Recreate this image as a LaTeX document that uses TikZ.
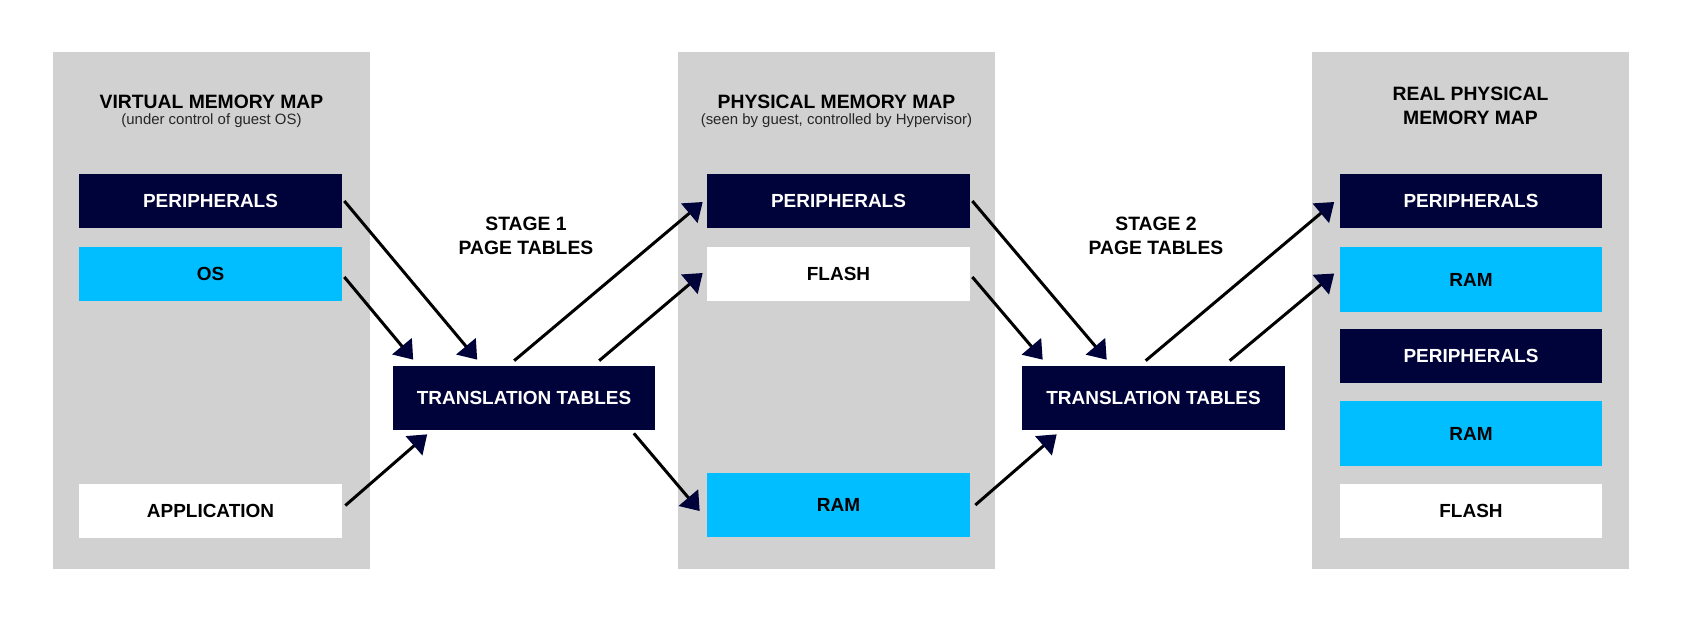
\documentclass[tikz,border=0pt]{standalone}
\usepackage{fontspec}
\setmainfont{Liberation Sans}
\usetikzlibrary{arrows.meta}

\definecolor{armnavy}{RGB}{0,2,58}
\definecolor{armcyan}{RGB}{0,190,255}
\definecolor{mapgray}{RGB}{209,209,209}

\tikzset{
  region/.style={minimum width=5.26cm, minimum height=1.08cm, inner sep=0pt,
    font=\fontsize{10.8}{13}\selectfont\bfseries},
  periph/.style={region, fill=armnavy, text=white},
  ram/.style={region, fill=armcyan, text=black, minimum height=1.3cm},
  flash/.style={region, fill=white, text=black},
  xlat/.style={region, fill=armnavy, text=white, minimum height=1.28cm},
  maptitle/.style={font=\fontsize{11}{13.6}\selectfont\bfseries, align=center},
  mapnote/.style={font=\fontsize{8.5}{10}\selectfont, text=black!85},
  map/.style={line width=0.06cm, -{Triangle[length=0.35cm,width=0.5cm,color=armnavy]}}
}

\begin{document}
\begin{tikzpicture}[x=0.02cm,y=-0.02cm]
      \useasboundingbox (0,0) rectangle (1690,616);
      \fill[mapgray] (53,52) rectangle (370,569);
      \fill[mapgray] (678,52) rectangle (995,569);
      \fill[mapgray] (1312,52) rectangle (1629,569);
      % virtual memory map
      \node[maptitle] (vtitle) at (211.5,102) {VIRTUAL MEMORY MAP};
      \node[mapnote] (vnote) at (211.5,121) {(under control of guest OS)};
      \node[periph] (vper) at (210.5,201) {PERIPHERALS};
      \node[ram, minimum height=1.08cm] (vos) at (210.5,274) {OS};
      \node[flash] (vapp) at (210.5,510.5) {APPLICATION};
      % physical memory map
      \node[maptitle] (ptitle) at (836.5,102) {PHYSICAL MEMORY MAP};
      \node[mapnote] (pnote) at (836.5,121) {(seen by guest, controlled by Hypervisor)};
      \node[periph] (pper) at (838.5,201) {PERIPHERALS};
      \node[flash] (pflash) at (838.5,274) {FLASH};
      \node[ram, minimum height=1.28cm] (pram) at (838.5,505) {RAM};
      % real physical memory map
      \node[maptitle] (rtitle) at (1470.5,106) {REAL PHYSICAL\\MEMORY MAP};
      \node[periph] (rper) at (1471,201) {PERIPHERALS};
      \node[ram] (rram) at (1471,279.5) {RAM};
      \node[periph] (rper2) at (1471,356) {PERIPHERALS};
      \node[ram] (rram2) at (1471,433.5) {RAM};
      \node[flash] (rflash) at (1471,510.5) {FLASH};
      % translation stages
      \node[maptitle] (stage1) at (526,235.5) {STAGE 1\\PAGE TABLES};
      \node[maptitle] (stage2) at (1156,235.5) {STAGE 2\\PAGE TABLES};
      \node[xlat] (tt1) at (524,398) {TRANSLATION TABLES};
      \node[xlat] (tt2) at (1153.5,398) {TRANSLATION TABLES};
      % stage 1
      \draw[map] ([shift={(2,0)}]vper.east) -- ([shift={(85,-6)}]tt1.north west);
      \draw[map] ([shift={(2,3)}]vos.east) -- ([shift={(21,-6)}]tt1.north west);
      \draw[map] ([shift={(3,-5)}]vapp.east) -- ([shift={(35,4)}]tt1.south west);
      \draw[map] ([shift={(122,-5)}]tt1.north west) -- ([shift={(-4,1)}]pper.west);
      \draw[map] ([shift={(207,-5)}]tt1.north west) -- ([shift={(-4,-1)}]pflash.west);
      \draw[map] ([shift={(-22,3)}]tt1.south east) -- ([shift={(-7,6)}]pram.west);
      % stage 2
      \draw[map] ([shift={(2,0)}]pper.east) -- ([shift={(85,-6)}]tt2.north west);
      \draw[map] ([shift={(2,3)}]pflash.east) -- ([shift={(21,-6)}]tt2.north west);
      \draw[map] ([shift={(5,0)}]pram.east) -- ([shift={(35,4)}]tt2.south west);
      \draw[map] ([shift={(124,-5)}]tt2.north west) -- ([shift={(-5,1)}]rper.west);
      \draw[map] ([shift={(208,-5)}]tt2.north west) -- ([shift={(-5,-6)}]rram.west);
\end{tikzpicture}
\end{document}
